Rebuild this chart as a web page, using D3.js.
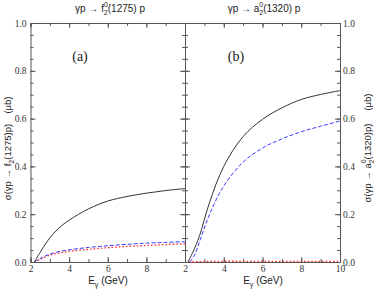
<!DOCTYPE html>
<html><head><meta charset="utf-8">
<script src="https://cdn.jsdelivr.net/npm/d3@7"></script>
<style>
body{margin:0;background:#fff;}
svg{display:block;}
.tick text{font-family:"Liberation Serif","Times New Roman",serif;font-size:9.5px;fill:#333;}
.sans{font-family:"Liberation Sans",Arial,sans-serif;fill:#222;}
</style></head>
<body>
<svg id="c" width="374" height="290"></svg>
<script>
// ---------- data ----------
const energyA = [2.2, 2.5, 2.9, 3.4, 4, 5, 6, 7, 8, 9, 10];
const totalA  = [0, 0.04, 0.09, 0.137, 0.175, 0.222, 0.255, 0.274, 0.288, 0.299, 0.307];
const dashA   = [0, 0.014, 0.03, 0.042, 0.051, 0.061, 0.068, 0.074, 0.079, 0.082, 0.085];
const dotA    = [0, 0.011, 0.026, 0.037, 0.045, 0.053, 0.06, 0.065, 0.069, 0.073, 0.076];

const energyB = [2.15, 2.4, 2.75, 3.25, 4, 5, 6, 7, 8, 9, 10];
const totalB  = [0, 0.04, 0.11, 0.245, 0.4, 0.525, 0.597, 0.645, 0.68, 0.701, 0.717];
const energyB2 = [2.25, 2.5, 2.84, 3.27, 4, 5, 6, 7, 8, 9, 10];
const dashB   = [0, 0.03, 0.106, 0.2, 0.318, 0.418, 0.477, 0.515, 0.545, 0.568, 0.59];
const energyB3 = [2.2, 3, 4, 5, 6, 7, 8, 9, 10];
const dotB    = [0, 0.002, 0.003, 0.003, 0.003, 0.003, 0.003, 0.003, 0.003];

const xTicksA = [2, 4, 6, 8];
const xTicksB = [2, 4, 6, 8, 10];
const yTicks  = [0, 0.2, 0.4, 0.6, 0.8, 1.0];

// ---------- layout ----------
const svg = d3.select("#c");
const yTop = 23, yBot = 262;
const xA = d3.scaleLinear().domain([2, 10]).range([30.5, 185]);
const xB = d3.scaleLinear().domain([2, 10]).range([185, 340]);
const y = d3.scaleLinear().domain([0, 1]).range([yBot, yTop]);

const axisColor = "#555";
const minorX = d3.range(2, 10.01, 1);
const minorY = d3.range(0, 1.001, 0.05);

function styleAxis(g){
  g.select(".domain").attr("stroke", axisColor).attr("stroke-width", 1);
  g.selectAll(".tick line").attr("stroke", axisColor).attr("stroke-width", 1);
}

function panel(x, xt, leftLabels, rightLabels){
  const gB = svg.append("g").attr("transform", `translate(0,${yBot})`);
  gB.call(d3.axisBottom(x).tickValues(minorX).tickSize(-3).tickFormat(""));
  styleAxis(gB);
  const gB2 = svg.append("g").attr("transform", `translate(0,${yBot})`);
  gB2.call(d3.axisBottom(x).tickValues(xt).tickSizeInner(-5).tickSizeOuter(0).tickPadding(3).tickFormat(d3.format("d")));
  styleAxis(gB2);
  gB2.select(".domain").remove();
  const gT = svg.append("g").attr("transform", `translate(0,${yTop})`);
  gT.call(d3.axisTop(x).tickValues(minorX).tickSize(-3).tickFormat(""));
  styleAxis(gT);
  const gT2 = svg.append("g").attr("transform", `translate(0,${yTop})`);
  gT2.call(d3.axisTop(x).tickValues(xt.concat([10])).tickSize(-5).tickFormat(""));
  styleAxis(gT2);
  gT2.select(".domain").remove();
  const x0 = x.range()[0], x1 = x.range()[1];
  const gL = svg.append("g").attr("transform", `translate(${x0},0)`);
  gL.call(d3.axisLeft(y).tickValues(minorY).tickSize(-3).tickFormat(""));
  styleAxis(gL);
  const gL2 = svg.append("g").attr("transform", `translate(${x0},0)`);
  gL2.call(d3.axisLeft(y).tickValues(yTicks).tickSizeInner(-5).tickSizeOuter(0).tickPadding(4)
    .tickFormat(leftLabels ? d3.format(".1f") : ""));
  styleAxis(gL2);
  gL2.select(".domain").remove();
  const gR = svg.append("g").attr("transform", `translate(${x1},0)`);
  gR.call(d3.axisRight(y).tickValues(minorY).tickSize(-3).tickFormat(""));
  styleAxis(gR);
  const gR2 = svg.append("g").attr("transform", `translate(${x1},0)`);
  gR2.call(d3.axisRight(y).tickValues(yTicks).tickSizeInner(-5).tickSizeOuter(0).tickPadding(3)
    .tickFormat(rightLabels ? d3.format(".1f") : ""));
  styleAxis(gR2);
  gR2.select(".domain").remove();
}

panel(xA, xTicksA, true, false);
panel(xB, xTicksB, false, true);

function curve(x, xs, ys, color, dash, w){
  const pts = xs.map((e, i) => [e, ys[i]]);
  svg.append("path")
    .attr("d", d3.line().x(d => x(d[0])).y(d => y(d[1])).curve(d3.curveCatmullRom.alpha(0.5))(pts))
    .attr("fill", "none").attr("stroke", color).attr("stroke-width", w)
    .attr("stroke-dasharray", dash);
}
curve(xA, energyA, dotA, "#ff3030", "1.6,2", 1.3);
curve(xA, energyA, dashA, "#3a3aff", "4,2", 1);
curve(xA, energyA, totalA, "#333", null, 1);
curve(xB, energyB3, dotB, "#ff3030", "1.6,2", 1.3);
curve(xB, energyB2, dashB, "#3a3aff", "4,2", 1);
curve(xB, energyB, totalB, "#333", null, 1);

svg.append("text").attr("x", 80).attr("y", 61).attr("text-anchor", "middle")
  .style("font-family", "'Liberation Serif',serif").style("font-size", "14px").style("fill", "#222").text("(a)");
svg.append("text").attr("x", 236).attr("y", 61).attr("text-anchor", "middle")
  .style("font-family", "'Liberation Serif',serif").style("font-size", "14px").style("fill", "#222").text("(b)");

function topTitle(cx, meson, mass){
  const t = svg.append("text").attr("class", "sans").attr("x", cx).attr("y", 12)
    .attr("text-anchor", "middle").style("font-size", "10px");
  t.append("tspan").text("γp → " + meson);
  t.append("tspan").attr("dy", -5).style("font-size", "7px").text("0");
  t.append("tspan").attr("dx", -4).attr("dy", 7.5).style("font-size", "7px").text("2");
  t.append("tspan").attr("dy", -2.5).text("(" + mass + ") p");
}
topTitle(110, "f", "1275");
topTitle(264, "a", "1320");

function xTitle(cx){
  const t = svg.append("text").attr("class", "sans").attr("x", cx).attr("y", 284)
    .attr("text-anchor", "middle").style("font-size", "10px");
  t.append("tspan").text("E");
  t.append("tspan").attr("dy", 3).style("font-size", "7px").text("γ");
  t.append("tspan").attr("dy", -3).text("  (GeV)");
}
xTitle(108);
xTitle(263);

function yTitle(bx, cy, meson, mass, sup){
  const g = svg.append("g").attr("transform", `translate(${bx},${cy}) rotate(-90)`);
  const t = g.append("text").attr("class", "sans").attr("x", 0).attr("y", 0)
    .attr("text-anchor", "middle").style("font-size", "9.5px");
  t.append("tspan").text("σ(γp → " + meson);
  if (sup){
    t.append("tspan").attr("dy", -5).style("font-size", "7px").text("0");
    t.append("tspan").attr("dx", -4).attr("dy", 7.5).style("font-size", "7px").text("2");
    t.append("tspan").attr("dy", -2.5).text("(" + mass + ")p)");
  } else {
    t.append("tspan").attr("dy", 2.5).style("font-size", "7px").text("2");
    t.append("tspan").attr("dy", -2.5).text("(" + mass + ")p)");
  }
  g.append("text").attr("class", "sans").attr("x", sup ? 61 : 57).attr("y", 0)
    .attr("text-anchor", "middle").style("font-size", "9.5px").text("(μb)");
}
yTitle(11, 162, "f", "1275", false);
yTitle(371, 163, "a", "1320", true);
</script>
</body></html>
